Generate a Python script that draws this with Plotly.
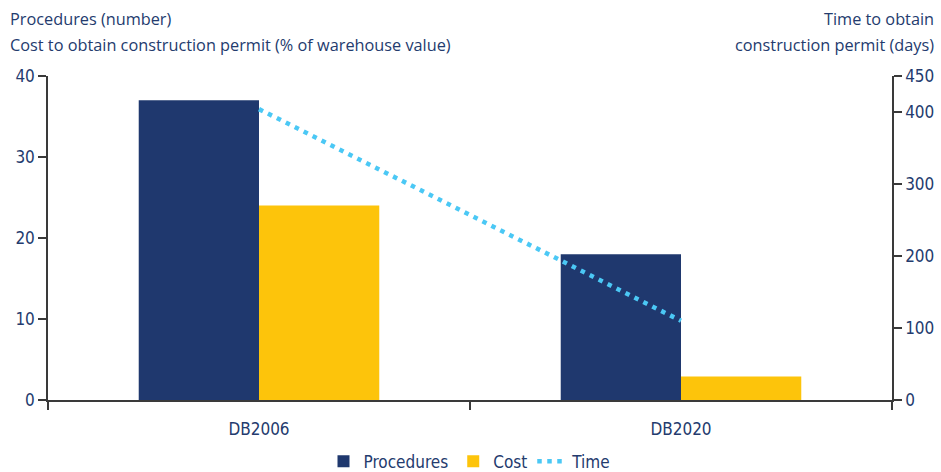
import plotly.graph_objects as go

categories = ["DB2006", "DB2020"]
procedures = [37, 18]
cost = [24, 2.9]
time_days = [404, 110]
left_ticks = [0, 10, 20, 30, 40]
right_ticks = [0, 100, 200, 300, 400, 450]
left_title = ["Procedures (number)",
              "Cost to obtain construction permit (% of warehouse value)"]
right_title = ["Time to obtain", "construction permit (days)"]

NAVY = "#1F386E"
YELLOW = "#FDC40B"
BLUE = "#4BC8F5"
TEXT = "#243B6E"
AXIS = "#3a3a3a"
FONT = "Open Sans"
NARROW = "DejaVu Sans Condensed"

fig = go.Figure()
fig.add_trace(go.Bar(x=categories, y=procedures, name="Procedures",
                     marker=dict(color=NAVY, line=dict(width=0))))
fig.add_trace(go.Bar(x=categories, y=cost, name="Cost",
                     marker=dict(color=YELLOW, line=dict(width=0))))
fig.add_trace(go.Scatter(x=categories, y=time_days, name="Time", yaxis="y2",
                         mode="lines",
                         line=dict(color=BLUE, width=4.5, dash="4.5px,5.5px")))

axis_common = dict(showline=True, linecolor=AXIS, linewidth=1.5,
                   ticks="outside", ticklen=8, tickcolor=AXIS, tickwidth=1.5,
                   showgrid=False, zeroline=False, automargin=False,
                   tickfont=dict(family=NARROW, size=17, color=TEXT))

annotations = []
for txt, shift in zip(left_title, [57, 31]):
    annotations.append(dict(text=txt, xref="paper", yref="paper",
                            x=-0.047, y=1.0, yshift=shift,
                            xanchor="left", yanchor="middle", showarrow=False,
                            font=dict(family=FONT, size=16.3, color=TEXT)))
for txt, shift in zip(right_title, [57, 31]):
    annotations.append(dict(text=txt, xref="paper", yref="paper",
                            x=1.052, y=1.0, yshift=shift,
                            xanchor="right", yanchor="middle", showarrow=False,
                            font=dict(family=FONT, size=16.3, color=TEXT)))

fig.update_layout(
    width=941, height=472,
    margin=dict(l=48, r=49, t=76, b=72),
    paper_bgcolor="white", plot_bgcolor="white",
    barmode="group", bargap=0.43, bargroupgap=0,
    font=dict(family=FONT, color=TEXT, size=16),
    showlegend=True,
    legend=dict(orientation="h", x=0.5, xanchor="center",
                yref="container", y=0.06, yanchor="top",
                font=dict(family=NARROW, size=17, color=TEXT),
                itemwidth=30, tracegroupgap=0, traceorder="normal"),
    xaxis=dict(**axis_common, tickson="boundaries", ticklabelstandoff=13),
    yaxis=dict(**axis_common, range=[0, 40], tickvals=left_ticks),
    yaxis2=dict(**axis_common, range=[0, 450], tickvals=right_ticks,
                overlaying="y", side="right"),
    annotations=annotations,
)

fig.write_html("out.html", config={"displayModeBar": False},
               post_script="document.body.style.margin='0px';document.body.style.overflow='hidden';")
